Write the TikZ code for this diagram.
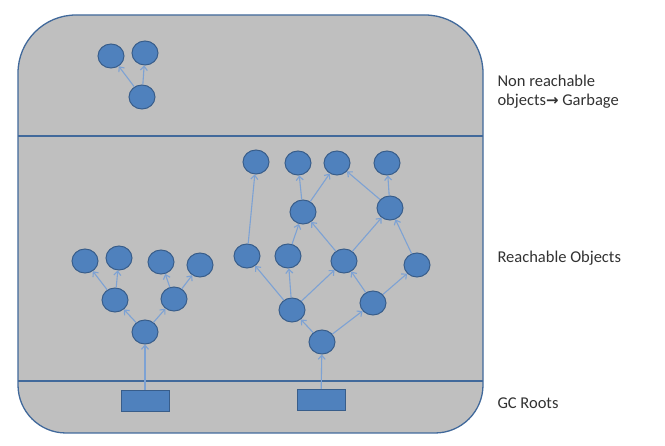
\documentclass[tikz,border=0pt]{standalone}
\usepackage{fontspec}
\setmainfont{Carlito}
\newfontfamily\arrowfont{DejaVu Sans}
\usetikzlibrary{arrows.meta,shapes.geometric}
\definecolor{heapgray}{RGB}{191,191,191}
\definecolor{objblue}{RGB}{79,129,189}
\definecolor{objedge}{RGB}{56,93,138}
\definecolor{boxline}{RGB}{65,105,155}
\definecolor{refblue}{RGB}{125,162,212}
\definecolor{labelgray}{RGB}{50,50,50}

\begin{document}
\begin{tikzpicture}[x=1pt,y=-1pt,
  obj/.style={draw=objedge,fill=objblue,ellipse,line width=1pt,minimum width=26pt,minimum height=24pt,inner sep=0pt},
  gcroot/.style={draw=objedge,fill=objblue,line width=1pt,minimum width=48pt,minimum height=21pt,inner sep=0pt},
  ref/.style={refblue,line width=1.1pt,-{Straight Barb[length=4pt,width=7pt]}},
  lbl/.style={anchor=west,align=left,text=labelgray,font=\fontsize{16.5}{19}\selectfont}]
  \useasboundingbox (0,0) rectangle (665,446);
  \draw[boxline,fill=heapgray,line width=1.3pt] (18,250) [rounded corners=58pt] -- (18,15) -- (483,15) -- (483,250) [rounded corners=48pt] -- (483,433) -- (18,433) -- cycle;
  \draw[boxline,line width=1.3pt] (18,136) -- (483,136);
  \draw[boxline,line width=1.3pt] (18,381) -- (483,381);

  \node[lbl] (garbage) at (494,92) {Non reachable\\objects{\arrowfont\bfseries\fontsize{15}{19}\selectfont →} Garbage};
  \node[lbl] (reach) at (494,258) {Reachable Objects};
  \node[lbl] (roots) at (494,403) {GC Roots};

  % unreachable
  \node[obj] (g1) at (111,56) {};
  \node[obj] (g2) at (145,53) {};
  \node[obj] (g3) at (142,97) {};

  % left root
  \node[gcroot] (root1) at (145,401) {};
  \node[obj] (a0) at (145,332) {};
  \node[obj] (a1) at (115,300) {};
  \node[obj] (a2) at (174,299) {};
  \node[obj] (a3) at (85,261) {};
  \node[obj] (a4) at (119,258) {};
  \node[obj] (a5) at (161,262) {};
  \node[obj] (a6) at (200,265) {};

  % right root
  \node[gcroot] (root2) at (321,400) {};
  \node[obj] (b0) at (322,342) {};
  \node[obj] (b1) at (292,310) {};
  \node[obj] (b2) at (373,303) {};
  \node[obj] (b3) at (247,256) {};
  \node[obj] (b4) at (288,256) {};
  \node[obj] (b5) at (344,261) {};
  \node[obj] (b6) at (417,265) {};
  \node[obj] (b7) at (303,212) {};
  \node[obj] (b8) at (390,208) {};
  \node[obj] (b9) at (256,162) {};
  \node[obj] (b10) at (298,163) {};
  \node[obj] (b11) at (337,163) {};
  \node[obj] (b12) at (387,163) {};

  \draw[ref] (g3) -- (g1);
  \draw[ref] (g3) -- (g2);
  \draw[ref] (root1) -- (a0);
  \draw[ref] (a0) -- (a1);
  \draw[ref] (a0) -- (a2);
  \draw[ref] (a1) -- (a3);
  \draw[ref] (a1) -- (a4);
  \draw[ref] (a2) -- (a5);
  \draw[ref] (a2) -- (a6);
  \draw[ref] (root2) -- (b0);
  \draw[ref] (b0) -- (b1);
  \draw[ref] (b0) -- (b2);
  \draw[ref] (b1) -- (b3);
  \draw[ref] (b1) -- (b4);
  \draw[ref] (b1) -- (b5);
  \draw[ref] (b2) -- (b5);
  \draw[ref] (b2) -- (b6);
  \draw[ref] (b3) -- (b9);
  \draw[ref] (b4) -- (b7);
  \draw[ref] (b5) -- (b7);
  \draw[ref] (b5) -- (b8);
  \draw[ref] (b6) -- (b8);
  \draw[ref] (b7) -- (b10);
  \draw[ref] (b7) -- (b11);
  \draw[ref] (b8) -- (b11);
  \draw[ref] (b8) -- (b12);
\end{tikzpicture}
\end{document}
